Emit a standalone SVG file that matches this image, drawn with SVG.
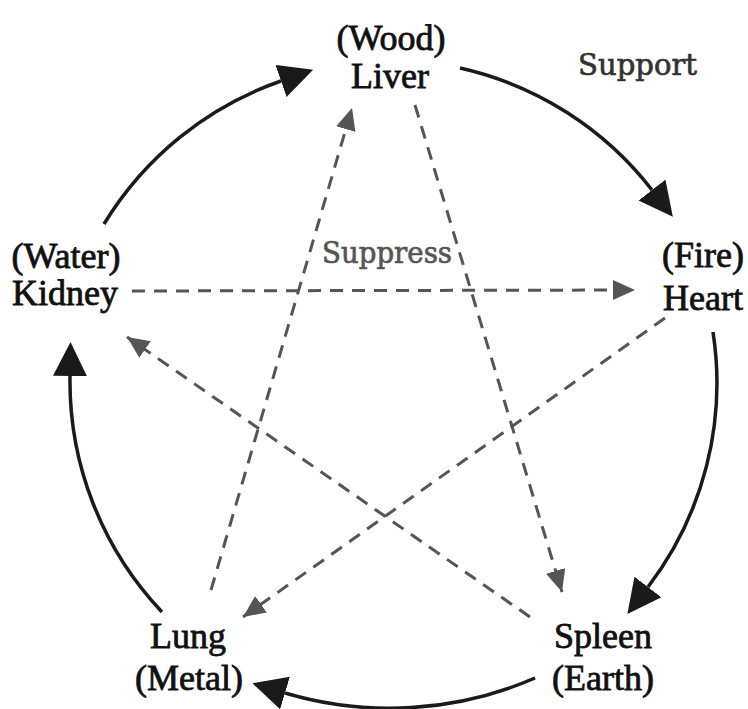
<svg xmlns="http://www.w3.org/2000/svg" width="748" height="709" viewBox="0 0 748 709">
<style>
.node text{font-family:"Liberation Serif","Times New Roman",serif;font-size:36px;fill:#111;stroke:#111;stroke-width:0.8;text-anchor:middle}
.lbl{font-family:"DejaVu Serif",serif;font-size:29px;stroke-width:0.7}
.sup{fill:none;stroke:#1a1a1a;stroke-width:3.5}
.sub{fill:none;stroke:#555;stroke-width:3;stroke-dasharray:13 9}
</style>
<defs>
<marker id="big" markerUnits="userSpaceOnUse" markerWidth="40" markerHeight="40" refX="0" refY="17" orient="auto">
<path d="M0,0 L34,17 L0,34 z" fill="#1a1a1a"/>
</marker>
<marker id="small" markerUnits="userSpaceOnUse" markerWidth="26" markerHeight="24" refX="22" refY="10" orient="auto">
<path d="M0,0 L22,10 L0,20 z" fill="#555"/>
</marker>
</defs>
<rect width="748" height="709" fill="#fff"/>
<g id="connectors">
<path class="sup" d="M104,224 A336,336 0 0 1 281,81" marker-end="url(#big)"/>
<path class="sup" d="M460,68 A336,336 0 0 1 652,190" marker-end="url(#big)"/>
<path class="sup" d="M713,332 A336,336 0 0 1 648,587" marker-end="url(#big)"/>
<path class="sup" d="M535,678 A366,366 0 0 1 285,693" marker-end="url(#big)"/>
<path class="sup" d="M162,612 A336,336 0 0 1 70,376" marker-end="url(#big)"/>
<path class="sub" d="M415,105 L562,592" marker-end="url(#small)"/>
<path class="sub" d="M530,617 L127,337" marker-end="url(#small)"/>
<path class="sub" d="M132,291 L635,290" marker-end="url(#small)"/>
<path class="sub" d="M665,318 L243,617" marker-end="url(#small)"/>
<path class="sub" d="M211,590 L352,108" marker-end="url(#small)"/>
</g>
<text class="lbl" x="578" y="75" fill="#333" stroke="#333" textLength="119" lengthAdjust="spacingAndGlyphs">Support</text>
<text class="lbl" x="322" y="263" fill="#555" stroke="#555" textLength="130" lengthAdjust="spacingAndGlyphs">Suppress</text>
<g id="liver" class="node"><text x="391" y="50">(Wood)</text><text x="390" y="88">Liver</text></g>
<g id="heart" class="node"><text x="703" y="267">(Fire)</text><text x="703" y="310">Heart</text></g>
<g id="spleen" class="node"><text x="603" y="648">Spleen</text><text x="603" y="690">(Earth)</text></g>
<g id="lung" class="node"><text x="188" y="648">Lung</text><text x="189" y="690">(Metal)</text></g>
<g id="kidney" class="node"><text x="66" y="268">(Water)</text><text x="65" y="305">Kidney</text></g>
</svg>
